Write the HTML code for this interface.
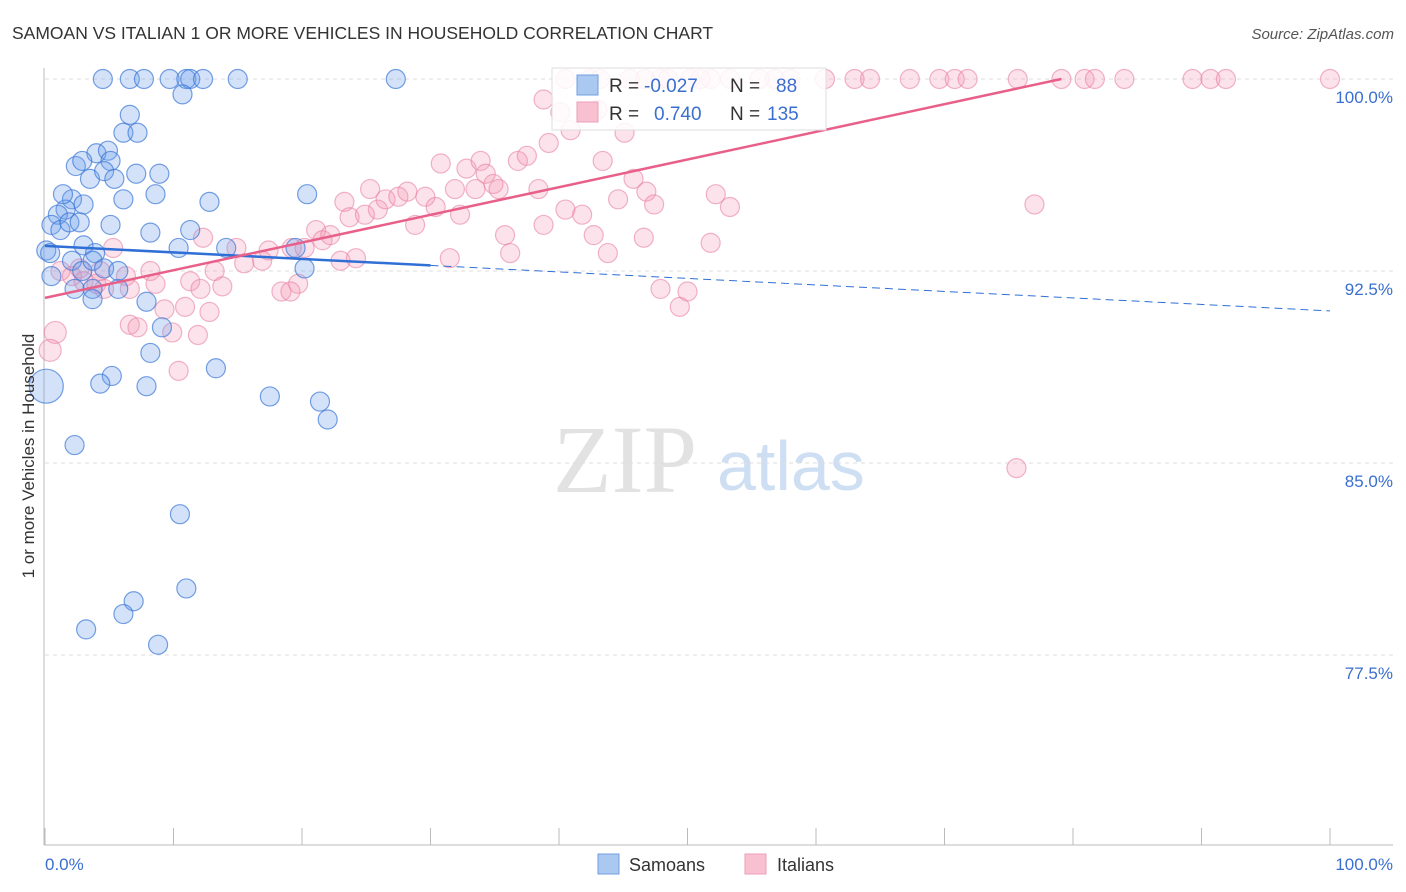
<!DOCTYPE html>
<html><head><meta charset="utf-8">
<style>
body{margin:0;background:#fff;font-family:"Liberation Sans",sans-serif;}
svg{display:block}
</style></head>
<body>
<svg id="chart" width="1406" height="892" viewBox="0 0 1406 892">
<text x="12" y="39" font-size="17.5" fill="#333">SAMOAN VS ITALIAN 1 OR MORE VEHICLES IN HOUSEHOLD CORRELATION CHART</text>
<text x="1394" y="39" font-size="15" font-style="italic" fill="#555" text-anchor="end">Source: ZipAtlas.com</text>
<g>
<text x="553" y="492" font-size="96" font-family="Liberation Serif,serif" fill="#e2e2e2">ZIP</text>
<text x="717" y="490" font-size="70" fill="#cfdff3">atlas</text>
</g>
<g id="grid"></g>
<g id="axes"></g>
<g id="pinkpts"></g>
<g id="bluepts"></g>
<g id="lines"></g>
<text transform="translate(34,456) rotate(-90)" font-size="17" fill="#333" text-anchor="middle">1 or more Vehicles in Household</text>
<g>
<rect x="552" y="68" width="274" height="62" fill="#fff" fill-opacity="0.85" stroke="#ddd"/>
<rect x="577" y="75" width="21" height="20" fill="#aac8f0" stroke="#6f9fe0"/>
<rect x="577" y="102" width="21" height="20" fill="#f8c0d0" stroke="#eaa0b8"/>
<text x="609" y="92" font-size="19" fill="#333">R = </text><text x="644" y="92" font-size="19" fill="#3a6fd0">-0.027</text>
<text x="730" y="92" font-size="19" fill="#333">N = </text><text x="776" y="92" font-size="19" fill="#3a6fd0">88</text>
<text x="609" y="120" font-size="19" fill="#333">R = </text><text x="654" y="120" font-size="19" fill="#3a6fd0">0.740</text>
<text x="730" y="120" font-size="19" fill="#333">N = </text><text x="767" y="120" font-size="19" fill="#3a6fd0">135</text>
</g>
<g>
<rect x="598" y="854" width="21" height="20" fill="#aac8f0" stroke="#6f9fe0"/>
<text x="629" y="871" font-size="18" fill="#333">Samoans</text>
<rect x="745" y="854" width="21" height="20" fill="#f8c0d0" stroke="#eaa0b8"/>
<text x="777" y="871" font-size="18" fill="#333">Italians</text>
</g>
</svg>
<script>
const yTicks=[100,92.5,85,77.5];
const yTickLabels=["100.0%","92.5%","85.0%","77.5%"];
const blueX=[4.5,6.6,7.7,9.7,11.0,11.3,12.3,15.0,27.3,10.7,6.6,6.1,7.2,4.0,4.9,2.4,2.9,5.1,3.5,4.6,5.4,7.1,8.9,2.1,1.6,1.0,1.4,3.0,6.1,8.6,12.8,20.4,0.5,1.2,1.9,2.7,5.1,8.2,11.3,0.1,0.4,3.0,3.9,10.4,14.1,19.5,0.5,2.1,2.9,3.7,4.6,5.7,20.2,2.3,3.7,5.7,7.9,3.7,9.1,8.2,5.2,4.3,7.9,13.3,17.5,21.4,22.0,2.3,10.5,11.0,6.9,6.1,3.2,8.8,0.1];
const blueY=[100,100,100,100,100,100,100,100,100,99.4,98.6,97.9,97.9,97.1,97.2,96.6,96.8,96.8,96.1,96.4,96.1,96.3,96.3,95.3,94.9,94.7,95.5,95.1,95.3,95.5,95.2,95.5,94.3,94.1,94.4,94.4,94.3,94.0,94.1,93.3,93.2,93.5,93.2,93.4,93.4,93.4,92.3,92.9,92.5,92.9,92.6,92.5,92.6,91.8,91.8,91.8,91.3,91.4,90.3,89.3,88.4,88.1,88.0,88.7,87.6,87.4,86.7,85.7,83.0,80.1,79.6,79.1,78.5,77.9,88.0];
const pinkX=[0.8,0.4,5.3,1.2,2.1,2.7,3.0,4.0,4.3,4.6,6.3,6.6,8.2,8.6,11.3,12.1,13.2,13.8,6.6,7.2,9.3,9.9,10.9,11.9,12.8,10.4,12.3,14.9,15.5,16.9,17.4,19.2,20.2,19.7,18.4,19.1,21.1,21.6,22.2,23.0,24.2,23.3,23.7,24.9,25.3,25.9,26.5,27.5,28.2,28.8,29.6,30.4,30.8,31.5,31.9,32.3,32.8,33.5,33.9,34.3,34.9,35.3,35.8,36.2,36.8,37.5,38.4,38.8,39.2,40.1,40.5,40.9,41.8,42.7,43.0,43.4,43.8,44.6,45.1,45.8,46.6,46.8,47.4,47.9,49.4,50.0,51.8,52.2,53.3,75.6,77.0,38.8,40.5,42.4,43.2,45.5,46.7,47.9,48.5,50.2,51.0,51.8,53.3,55.6,56.8,58.0,60.7,63.0,64.2,67.3,69.6,70.8,71.8,75.7,79.1,80.9,81.7,84.0,89.3,90.7,91.9,100];
const pinkY=[90.1,89.4,93.4,92.5,92.3,92.6,92.1,92.0,92.5,91.8,92.3,91.8,92.5,92.0,92.1,91.8,92.5,91.9,90.4,90.3,91.0,90.1,91.1,90.0,90.9,88.6,93.8,93.4,92.8,92.9,93.3,93.4,93.4,92.0,91.7,91.7,94.1,93.7,93.9,92.9,93.0,95.2,94.6,94.7,95.7,94.9,95.3,95.4,95.6,94.3,95.4,95.0,96.7,93.0,95.7,94.7,96.5,95.7,96.8,96.3,95.9,95.7,93.9,93.2,96.8,97.0,95.7,94.3,97.5,98.7,94.9,98.0,94.7,93.9,98.8,96.8,93.2,95.3,97.9,96.1,93.8,95.6,95.1,91.8,91.1,91.7,93.6,95.5,95.0,84.8,95.1,99.2,100,100,100,100,100,100,100,100,100,100,100,100,100,100,100,100,100,100,100,100,100,100,100,100,100,100,100,100,100,100];
const blueTrend=[93.48,90.94];
const pinkTrend=[91.45,102.26];
const NS="http://www.w3.org/2000/svg";
const X0=45,X1=1330,Y100=79,PXPER=25.6;
function sx(v){return X0+(X1-X0)*v/100;}
function sy(v){return Y100+(100-v)*PXPER;}
function mk(tag,attrs,parent){const e=document.createElementNS(NS,tag);for(const k in attrs)e.setAttribute(k,attrs[k]);parent.appendChild(e);return e;}
const grid=document.getElementById('grid'),axes=document.getElementById('axes');
yTicks.forEach((t,i)=>{
 const l=mk('line',{x1:45,x2:1393,y1:sy(t),y2:sy(t),stroke:'#ddd','stroke-dasharray':'4,4'},grid);
 
 
 const tx=mk('text',{x:1393,y:sy(t)+24,'font-size':17,fill:'#3a6fd0','text-anchor':'end'},axes);
 tx.textContent=yTickLabels[i];
 
 
});
const al=mk('line',{x1:44,x2:44,y1:68,y2:845,stroke:'#bbb'},axes);


const bl=mk('line',{x1:44,x2:1393,y1:845,y2:845,stroke:'#bbb'},axes);


for(let i=0;i<=10;i++){
 const tk=mk('line',{x1:sx(i*10),x2:sx(i*10),y1:828,y2:845,stroke:'#bbb'},axes);
 
 
}
const xl0=mk('text',{x:45,y:870,'font-size':17,fill:'#3a6fd0'},axes);xl0.textContent='0.0%';


const xl1=mk('text',{x:1393,y:870,'font-size':17,fill:'#3a6fd0','text-anchor':'end'},axes);xl1.textContent='100.0%';


const pp=document.getElementById('pinkpts');
pinkX.forEach((x,i)=>{
 const r=(i<2)?11:9.5;
 const c=mk('circle',{cx:sx(x),cy:sy(pinkY[i]),r:r,fill:'rgba(245,150,180,0.28)',stroke:'rgba(232,130,165,0.6)','stroke-width':1.2},pp);
 
 
});
const bp=document.getElementById('bluepts');
blueX.forEach((x,i)=>{
 const r=(i===blueX.length-1)?17:9.5;
 const c=mk('circle',{cx:sx(x),cy:sy(blueY[i]),r:r,fill:'rgba(110,160,235,0.3)',stroke:'rgba(60,120,215,0.7)','stroke-width':1.2},bp);
 
 
});
const ln=document.getElementById('lines');
function bAt(x){return blueTrend[0]+(blueTrend[1]-blueTrend[0])*x/100;}
const b1=mk('line',{x1:sx(0),y1:sy(bAt(0)),x2:sx(30),y2:sy(bAt(30)),stroke:'#2f6fd6','stroke-width':2.5},ln);


const b2=mk('line',{x1:sx(30),y1:sy(bAt(30)),x2:sx(100),y2:sy(bAt(100)),stroke:'#2f6fd6','stroke-width':1,'stroke-dasharray':'8,5'},ln);


const xEnd=Math.min(100,100*(100-pinkTrend[0])/(pinkTrend[1]-pinkTrend[0]));
const pEndY=pinkTrend[0]+(pinkTrend[1]-pinkTrend[0])*xEnd/100;
const p1=mk('line',{x1:sx(0),y1:sy(pinkTrend[0]),x2:sx(xEnd),y2:sy(pEndY),stroke:'#e8608a','stroke-width':2.5},ln);


</script>
</body></html>
